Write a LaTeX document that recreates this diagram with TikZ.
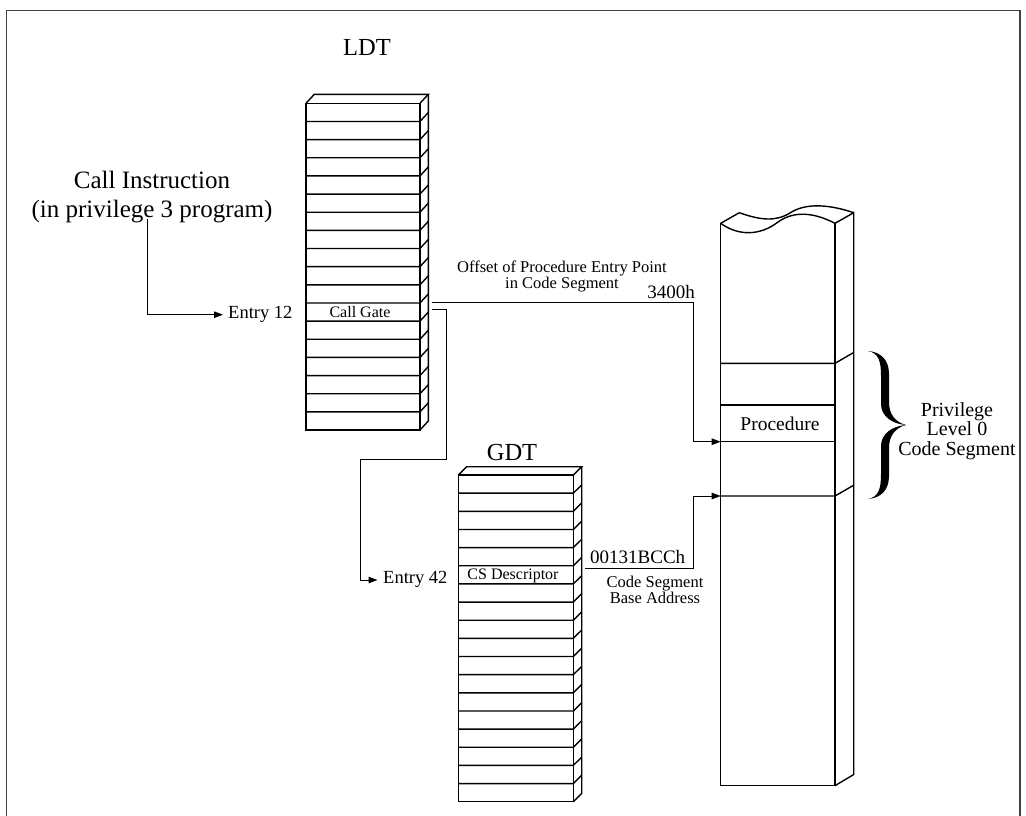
\documentclass[tikz,border=0pt]{standalone}
\usepackage{fontspec}
\setmainfont{Liberation Serif}
\usetikzlibrary{arrows.meta,calc}
\newcommand\fsz[2]{\fontsize{#1}{#2}\selectfont}
\begin{document}
\begin{tikzpicture}[x=1pt,y=-1pt,
  txt/.style={inner sep=0pt,align=center},
  slab/.style={line width=1.4pt,line join=miter},
  conn/.style={line width=1pt},
  arr/.style={conn,-{Triangle[length=9pt,width=6.5pt]}},
  frame/.style={line width=1.6pt,draw=black!75}]
\useasboundingbox (0,0) rectangle (1026,815);
\clip (0,0) rectangle (1026,815);
% frame
\draw[frame] (6.5,830) -- (6.5,10.5) -- (1020,10.5) -- (1020,830);

% ---- LDT stack ----
\def\xa{306}\def\xb{420}\def\yt{103.3}\def\rh{18.15}\def\dx{8.3}\def\dy{9}
\draw[slab] (\xa,\yt) rectangle (\xb,{\yt+18*\rh});
\draw[slab] (\xa,\yt) -- ({\xa+\dx},{\yt-\dy}) -- ({\xb+\dx},{\yt-\dy}) -- (\xb,\yt);
\draw[slab] ({\xb+\dx},{\yt-\dy}) -- ({\xb+\dx},{\yt+18*\rh-\dy}) -- (\xb,{\yt+18*\rh});
\foreach \i in {1,...,17}{
  \draw[slab] (\xa,{\yt+\i*\rh}) -- (\xb,{\yt+\i*\rh}) -- ({\xb+\dx},{\yt+\i*\rh-\dy});
}
% ---- GDT stack ----
\def\xa{458.3}\def\xb{573.3}\def\yt{475}\def\dx{8.4}\def\dy{8.3}
\draw[slab] (\xa,\yt) rectangle (\xb,{\yt+18*\rh});
\draw[slab] (\xa,\yt) -- ({\xa+\dx},{\yt-\dy}) -- ({\xb+\dx},{\yt-\dy}) -- (\xb,\yt);
\draw[slab] ({\xb+\dx},{\yt-\dy}) -- ({\xb+\dx},{\yt+18*\rh-\dy}) -- (\xb,{\yt+18*\rh});
\foreach \i in {1,...,17}{
  \draw[slab] (\xa,{\yt+\i*\rh}) -- (\xb,{\yt+\i*\rh}) -- ({\xb+\dx},{\yt+\i*\rh-\dy});
}
% ---- code segment column ----
\draw[slab] (720.7,223.3) .. controls (738,236) and (760,236) .. (778,222)
  .. controls (795,210) and (815,213) .. (835,223.3);
\draw[slab] (739.3,212.7) .. controls (760,220) and (775,222) .. (790,213)
  .. controls (805,203) and (828,204) .. (853.7,212.7);
\draw[slab] (720.7,223.3) -- (739.3,212.7);
\draw[slab] (835,223.3) -- (853.7,212.7) -- (853.7,774.5) -- (835,785.7);
\draw[slab] (720.7,223.3) -- (720.7,785.7) -- (835,785.7) -- (835,223.3);
\draw[slab] (720.7,363.3) -- (835,363.3) -- (853.7,352.5);
\draw[slab] (720.7,496) -- (835,496) -- (853.7,485.2);
\draw[slab] (720.7,405) -- (835,405);
\draw[slab] (720.7,441.7) -- (835,441.7);

% brace
\fill (868,351) .. controls (879,353) and (881,362) .. (881,376) -- (881,404)
  .. controls (881,416) and (892,424) .. (906,425)
  .. controls (895,422) and (889,414) .. (889,402) -- (889,374)
  .. controls (889,360) and (881,352) .. (868,351) -- cycle;
\fill (868,499) .. controls (879,497) and (881,488) .. (881,474) -- (881,446)
  .. controls (881,434) and (892,426) .. (906,425)
  .. controls (895,428) and (889,436) .. (889,448) -- (889,476)
  .. controls (889,490) and (881,498) .. (868,499) -- cycle;

% ---- texts ----
\node[txt,font=\fsz{24.5}{28}] (ldt) at (367,47) {LDT};
\node[txt,font=\fsz{24.5}{28}] (gdt) at (512,452) {GDT};
\node[txt,font=\fsz{25}{28.7}] (callins) at (152,197) {Call Instruction\\(in privilege 3 program)};
\node[txt,font=\fsz{18.5}{20},anchor=west] (entry12) at (228,314) {Entry 12};
\node[txt,font=\fsz{18.5}{20},anchor=west] (entry42) at (383,579) {Entry 42};
\node[txt,font=\fsz{16}{18}] (callgate) at (360,312.5) {Call Gate};
\node[txt,font=\fsz{16}{18}] (csdesc) at (513,575.5) {CS Descriptor};
\node[txt,font=\fsz{19.5}{22}] (proc) at (780,424) {Procedure};
\node[txt,font=\fsz{16.5}{15}] (offset) at (562,276) {Offset of Procedure Entry Point\\in Code Segment};
\node[txt,font=\fsz{19}{21},anchor=east] (off3400) at (695,292) {3400h};
\node[txt,font=\fsz{19}{21},anchor=west] (base) at (590,557) {00131BCCh};
\node[txt,font=\fsz{16.5}{15}] (basetxt) at (655,589.5) {Code Segment\\Base Address};
\node[txt,font=\fsz{20}{19.3}] (priv) at (957,431) {Privilege\\Level 0\\Code Segment};

% ---- connectors ----
\coordinate (cstart) at (147.7,219);
\coordinate (gateA) at (431.7,302.7);
\coordinate (gateB) at (431.7,309.3);
\coordinate (bendB) at (446.7,459.3);
\coordinate (procIn) at (720.7,441.7);
\coordinate (gdtA) at (585,568.3);
\coordinate (baseIn) at (720.7,496);
\draw[arr] (cstart) |- ([xshift=-5pt,yshift=-0.7pt]entry12.west);
\draw[arr] (gateA) -| ([xshift=-27.4pt]procIn) -- (procIn);
\draw[arr] (gateB) -| (bendB) -| ([xshift=-23pt,yshift=-1pt]entry42.west) -- ([xshift=-5.5pt,yshift=-1pt]entry42.west);
\draw[arr] (gdtA) -| ([xshift=-27.4pt]baseIn) -- (baseIn);
\end{tikzpicture}
\end{document}
